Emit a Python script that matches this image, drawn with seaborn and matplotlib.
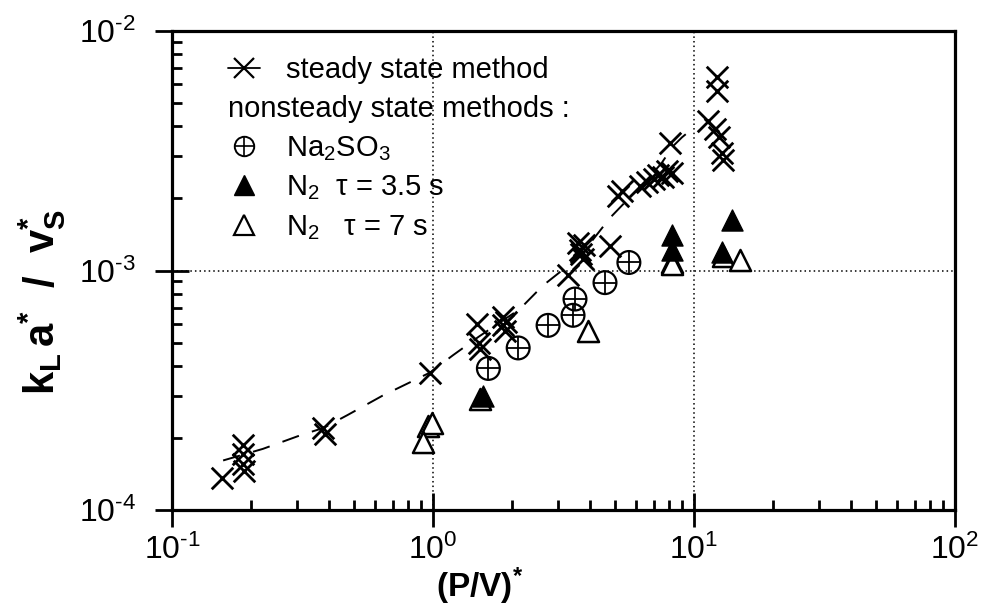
import matplotlib
matplotlib.use("Agg")
import matplotlib.pyplot as plt
import seaborn as sns
from matplotlib.lines import Line2D
from matplotlib.legend_handler import HandlerTuple
from matplotlib.ticker import LogLocator, NullFormatter

# ---- data ----
steady_x = [0.156, 0.187, 0.187, 0.187, 0.188, 0.38, 0.385, 0.975,
            1.48, 1.50, 1.52, 1.85, 1.85, 1.90, 1.88,
            3.30, 3.60, 3.65, 3.70, 3.80, 3.75, 4.75,
            5.10, 5.30, 6.20, 6.60, 7.00, 7.30, 7.60, 7.90, 8.20, 8.10,
            11.3, 12.2, 12.2, 12.0, 12.5, 12.8, 12.9]
steady_y = [1.36e-4, 1.87e-4, 1.72e-4, 1.55e-4, 1.45e-4, 2.20e-4, 2.08e-4, 3.75e-4,
            6.0e-4, 5.0e-4, 4.7e-4, 6.4e-4, 5.9e-4, 6.1e-4, 5.6e-4,
            9.6e-4, 1.30e-3, 1.22e-3, 1.17e-3, 1.28e-3, 1.12e-3, 1.26e-3,
            2.05e-3, 2.15e-3, 2.25e-3, 2.35e-3, 2.40e-3, 2.50e-3, 2.45e-3, 2.60e-3, 2.55e-3, 3.42e-3,
            4.2e-3, 6.4e-3, 5.6e-3, 3.9e-3, 3.6e-3, 3.1e-3, 2.9e-3]

curve_x = [0.157, 0.223, 0.31, 0.38, 0.47, 0.64, 0.975, 1.19, 1.5, 2.15,
           2.64, 3.3, 4.0, 4.77, 5.5, 6.5, 7.5, 8.3, 9.0, 9.7]
curve_y = [1.61e-4, 1.80e-4, 2.05e-4, 2.20e-4, 2.49e-4, 3.00e-4, 3.75e-4, 4.42e-4, 5.3e-4, 6.9e-4,
           8.66e-4, 1.05e-3, 1.30e-3, 1.66e-3, 1.95e-3, 2.35e-3, 2.80e-3, 3.30e-3, 3.60e-3, 3.85e-3]

na2so3_x = [1.63, 2.12, 2.76, 3.44, 3.50, 4.56, 5.63]
na2so3_y = [3.9e-4, 4.75e-4, 5.9e-4, 6.5e-4, 7.6e-4, 8.9e-4, 1.08e-3]

n2_35_x = [1.55, 8.2, 8.2, 14.0, 12.8]
n2_35_y = [3.0e-4, 1.41e-3, 1.22e-3, 1.63e-3, 1.20e-3]

n2_7_x = [0.955, 0.99, 0.915, 1.52, 3.93, 8.2, 8.25, 12.9, 15.0]
n2_7_y = [2.25e-4, 2.30e-4, 1.93e-4, 2.9e-4, 5.6e-4, 1.09e-3, 1.06e-3, 1.15e-3, 1.11e-3]

xtick_vals = [0.1, 1, 10, 100]
xtick_labels = ["10$^{\u2010 1}$", "10$^{0}$", "10$^{1}$", "10$^{2}$"]
ytick_vals = [1e-4, 1e-3, 1e-2]
ytick_labels = ["10$^{\u2010 4}$", "10$^{\u2010 3}$", "10$^{\u2010 2}$"]

legend_labels = ["steady state method", "nonsteady state methods :", "Na$_2$SO$_3$",
                 "N$_2$  \u03c4 = 3.5 s", "N$_2$   \u03c4 = 7 s"]

# ---- style ----
sns.set_style("white")
plt.rcParams.update({
    "font.family": ["Liberation Sans", "DejaVu Sans"],
    "mathtext.fontset": "custom",
    "mathtext.rm": "Liberation Sans",
    "mathtext.it": "Liberation Sans:italic",
    "mathtext.bf": "Liberation Sans:bold",
    "mathtext.sf": "Liberation Sans",
    "text.color": "black",
    "axes.labelcolor": "black",
    "xtick.color": "black",
    "ytick.color": "black",
})

fig = plt.figure(figsize=(9.85, 6.05), dpi=100)
ax = fig.add_axes([172 / 985, 1 - 510 / 605, 783 / 985, 479 / 605])
ax.set_xscale("log")
ax.set_yscale("log")

sns.lineplot(x=curve_x, y=curve_y, ax=ax, color="k", lw=1.4,
             linestyle=(0, (9, 7)), estimator=None, sort=False)
sns.scatterplot(x=steady_x, y=steady_y, ax=ax, marker="x", s=240,
                color="k", linewidth=2.0, zorder=3)
sns.scatterplot(x=na2so3_x, y=na2so3_y, ax=ax, marker="o", s=270,
                fc="none", ec="k", linewidth=1.6, zorder=3)
sns.scatterplot(x=na2so3_x, y=na2so3_y, ax=ax, marker="+", s=270,
                color="k", linewidth=1.3, zorder=3)
sns.scatterplot(x=n2_7_x, y=n2_7_y, ax=ax, marker="^", s=230,
                fc="white", ec="k", linewidth=1.8, zorder=3)
sns.scatterplot(x=n2_35_x, y=n2_35_y, ax=ax, marker="^", s=230,
                color="k", ec="k", linewidth=1.0, zorder=4)

ax.set_xlim(0.1, 100)
ax.set_ylim(1e-4, 1e-2)

ax.set_xticks(xtick_vals, labels=xtick_labels)
ax.set_yticks(ytick_vals, labels=ytick_labels)
ax.xaxis.set_minor_locator(LogLocator(base=10, subs=range(2, 10)))
ax.yaxis.set_minor_locator(LogLocator(base=10, subs=range(2, 10)))
ax.xaxis.set_minor_formatter(NullFormatter())
ax.yaxis.set_minor_formatter(NullFormatter())

ax.tick_params(which="major", direction="inout", length=24, width=2.0,
               labelsize=23, color="k", labelcolor="k",
               bottom=True, left=True, top=False, right=False)
ax.tick_params(axis="x", which="major", pad=6)
ax.tick_params(axis="y", which="major", pad=14)
ax.tick_params(which="minor", direction="in", length=7, width=2.0,
               bottom=True, left=True, top=False, right=False)

for s in ax.spines.values():
    s.set_linewidth(2.3)
    s.set_color("k")
    s.set_visible(True)

ax.grid(which="major", linestyle=(0, (1, 2)), color="k", lw=1.1)
ax.grid(which="minor", visible=False)

ax.set_xlabel(r"$\mathbf{(P/V)^{*}}$", fontsize=24)
ax.xaxis.set_label_coords(0.393, -0.115)
ax.xaxis.label.set_va("top")
ax.set_ylabel(r"$\mathbf{k_{L}\,a^{*}\ \ /\ \ v_{S}^{*}}$", fontsize=30)
ax.yaxis.set_label_coords(-0.133, 0.434)

# legend
h1 = Line2D([], [], color="k", marker="x", ms=14, mew=1.6, lw=1.3)
h2 = Line2D([], [], ls="none", marker=None)
h3 = (Line2D([], [], ls="none", marker="o", ms=14, mfc="none", mec="k", mew=1.4),
      Line2D([], [], ls="none", marker="+", ms=14, mec="k", mew=1.2))
h4 = Line2D([], [], ls="none", marker="^", ms=14, color="k")
h5 = Line2D([], [], ls="none", marker="^", ms=14, mfc="white", mec="k", mew=1.6)
leg = ax.legend([h1, h2, h3, h4, h5], legend_labels, loc="upper left",
                bbox_to_anchor=(0.0715, 0.947), frameon=False, fontsize=21,
                handlelength=1.1, handletextpad=0.9, labelspacing=0.37,
                borderpad=0, borderaxespad=0,
                handler_map={tuple: HandlerTuple(ndivide=1, pad=0)})

fig.canvas.draw()
t2 = leg.get_texts()[1]
bb = t2.get_window_extent()
t2.set_visible(False)
inv = ax.transAxes.inverted()
_, yc = inv.transform(((bb.x0 + bb.x1) / 2, (bb.y0 + bb.y1) / 2))
ax.text(0.0715, yc, legend_labels[1], transform=ax.transAxes, fontsize=21,
        va="center", ha="left")

fig.savefig("out.png", dpi=100)
